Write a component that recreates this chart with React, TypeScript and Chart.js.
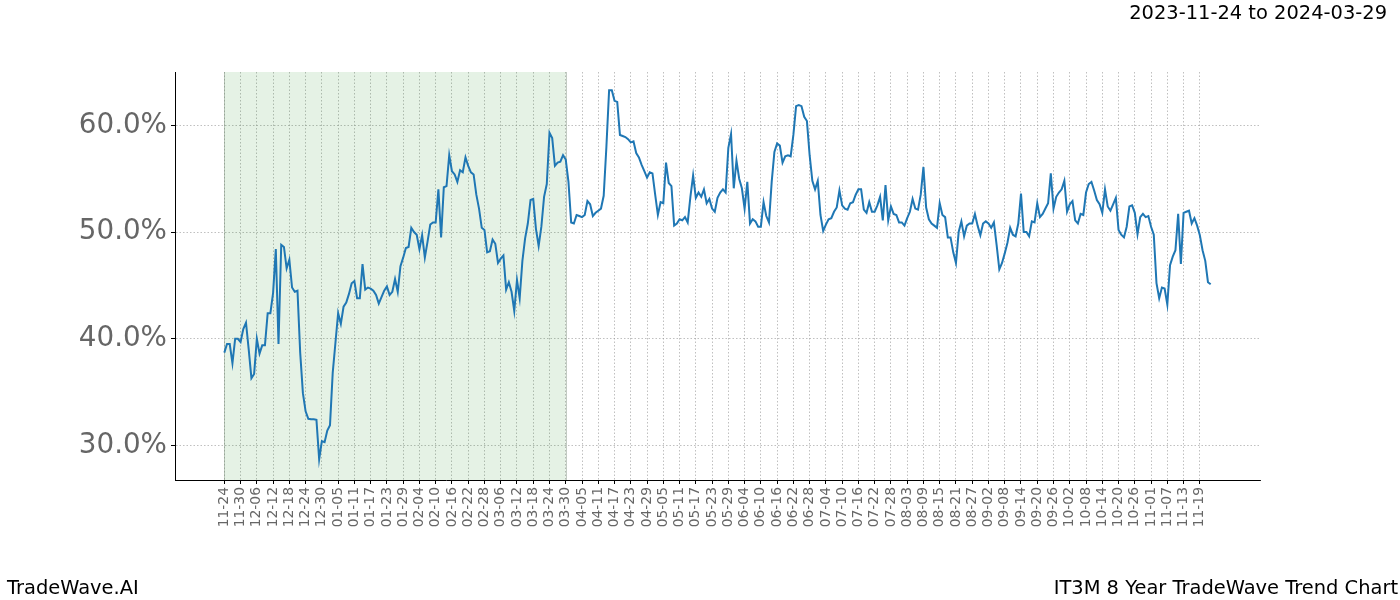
import React, { useEffect, useRef } from "react";
import { Chart, registerables } from "chart.js";

Chart.register(...registerables);

// Trend values (%), one per calendar day starting 2023-11-24
const trendValues: number[] = [
  38.7, 39.5, 39.5, 37.7, 40.0, 40.0, 39.7, 40.9, 41.5, 39.0,
  36.3, 36.7, 40.0, 38.6, 39.4, 39.4, 42.4, 42.4, 44.3, 48.4,
  39.5, 48.8, 48.6, 46.6, 47.4, 44.8, 44.4, 44.5, 38.7, 34.9,
  33.2, 32.5, 32.45, 32.45, 32.4, 28.7, 30.4, 30.3, 31.4, 31.9,
  36.8, 39.6, 42.4, 41.4, 43.0, 43.4, 44.2, 45.2, 45.4, 43.8,
  43.8, 47.0, 44.6, 44.8, 44.7, 44.5, 44.1, 43.3, 43.9, 44.5,
  44.9, 44.1, 44.4, 45.6, 44.4, 46.8, 47.6, 48.5, 48.6, 50.4,
  50.0, 49.75, 48.4, 49.7, 47.6, 49.1, 50.7, 50.9, 50.9, 54.0,
  49.5, 54.2, 54.3, 57.2, 55.7, 55.4, 54.7, 55.8, 55.6, 57.0,
  56.2, 55.6, 55.4, 53.5, 52.2, 50.4, 50.2, 48.1, 48.2, 49.3,
  48.9, 47.1, 47.5, 47.8, 44.6, 45.3, 44.4, 42.6, 45.5, 43.8,
  47.3, 49.4, 50.8, 53.0, 53.1, 50.3, 48.7, 50.5, 53.3, 54.5,
  59.3, 58.8, 56.2, 56.5, 56.6, 57.2, 56.8, 54.7, 50.9, 50.8,
  51.6, 51.5, 51.4, 51.6, 52.9, 52.6, 51.5, 51.8, 52.0, 52.2,
  53.4, 58.0, 63.3, 63.3, 62.3, 62.2, 59.1, 59.0, 58.9, 58.7,
  58.4, 58.5, 57.4, 57.0, 56.3, 55.7, 55.1, 55.6, 55.5, 53.5,
  51.6, 52.8, 52.7, 56.5, 54.6, 54.3, 50.6, 50.8, 51.2, 51.1,
  51.4, 50.9, 53.3, 55.3, 53.2, 53.7, 53.3, 54.0, 52.7, 53.1,
  52.2, 51.9, 53.2, 53.7, 54.0, 53.7, 57.9, 59.2, 54.1, 56.7,
  55.0, 54.1, 52.2, 54.7, 50.8, 51.2, 51.0, 50.5, 50.5, 52.8,
  51.5, 50.9, 54.7, 57.5, 58.3, 58.1, 56.5, 57.1, 57.2, 57.1,
  59.1, 61.8, 61.9, 61.8, 60.8, 60.4, 57.2, 54.8, 54.0, 54.8,
  51.6, 50.1, 50.7, 51.2, 51.3, 51.9, 52.3, 53.9, 52.5, 52.2,
  52.1, 52.7, 52.8, 53.5, 54.0, 54.0, 52.1, 51.8, 52.8, 51.9,
  51.9, 52.5, 53.3, 51.1, 54.4, 51.1, 52.4, 51.7, 51.6, 50.9,
  50.9, 50.6, 51.3, 51.9, 53.1, 52.2, 52.1, 53.5, 56.1, 52.3,
  51.2, 50.8, 50.6, 50.4, 52.7, 51.6, 51.4, 49.5, 49.5, 48.1,
  47.1, 50.0, 51.0, 49.6, 50.6, 50.8, 50.8, 51.7, 50.6, 49.7,
  50.8, 51.0, 50.8, 50.4, 50.9, 48.8, 46.5, 47.1, 48.0, 49.0,
  50.4, 49.75, 49.6, 50.8, 53.6, 50.0, 50.0, 49.6, 51.0, 50.9,
  52.7, 51.4, 51.7, 52.2, 52.7, 55.5, 52.2, 53.3, 53.7, 54.0,
  54.8, 51.9, 52.6, 52.9, 51.1, 50.8, 51.7, 51.6, 53.7, 54.5,
  54.7, 53.9, 53.0, 52.6, 51.8, 54.0, 52.4, 52.0, 52.6, 53.2,
  50.2, 49.75, 49.5, 50.5, 52.4, 52.5, 51.8, 49.8, 51.4, 51.7,
  51.4, 51.5, 50.5, 49.75, 45.2, 43.8, 44.8, 44.7, 43.2, 46.9,
  47.7, 48.3, 51.7, 47.0, 51.8, 51.9, 52.0, 50.8, 51.3, 50.6,
  49.7, 48.3, 47.3, 45.3, 45.1,
];

// Day offsets (x) for each value
const dayOffsets: number[] = trendValues.map((_, i) => i);

// X tick labels, one every 6 days
const xTickLabels: string[] = [
  "11-24", "11-30", "12-06", "12-12", "12-18", "12-24", "12-30", "01-05", "01-11", "01-17",
  "01-23", "01-29", "02-04", "02-10", "02-16", "02-22", "02-28", "03-06", "03-12", "03-18",
  "03-24", "03-30", "04-05", "04-11", "04-17", "04-23", "04-29", "05-05", "05-11", "05-17",
  "05-23", "05-29", "06-04", "06-10", "06-16", "06-22", "06-28", "07-04", "07-10", "07-16",
  "07-22", "07-28", "08-03", "08-09", "08-15", "08-21", "08-27", "09-02", "09-08", "09-14",
  "09-20", "09-26", "10-02", "10-08", "10-14", "10-20", "10-26", "11-01", "11-07", "11-13",
  "11-19",
];
const xTickStep = 6;

const yTickValues: number[] = [30, 40, 50, 60];

// Shaded window (day offsets): 2023-11-24 .. 2024-03-29
const shadeStartDay = 0;
const shadeEndDay = 126;

const titleText = "2023-11-24 to 2024-03-29";
const footerLeft = "TradeWave.AI";
const footerRight = "IT3M 8 Year TradeWave Trend Chart";

const FONT = "'DejaVu Sans', 'Liberation Sans', sans-serif";

export default function App() {
  const canvasRef = useRef<HTMLCanvasElement | null>(null);

  useEffect(() => {
    if (!canvasRef.current) return;

    const shadePlugin = {
      id: "shadeWindow",
      beforeDatasetsDraw(chart: any) {
        const { ctx, chartArea, scales } = chart;
        const x0 = scales.x.getPixelForValue(shadeStartDay);
        const x1 = scales.x.getPixelForValue(shadeEndDay);
        ctx.save();
        ctx.fillStyle = "rgba(0,128,0,0.1)";
        ctx.fillRect(x0, chartArea.top, x1 - x0, chartArea.bottom - chartArea.top);
        ctx.strokeStyle = "rgba(120,140,120,0.45)";
        ctx.lineWidth = 1;
        ctx.beginPath();
        ctx.moveTo(Math.round(x0) + 0.5, chartArea.top);
        ctx.lineTo(Math.round(x0) + 0.5, chartArea.bottom);
        ctx.moveTo(Math.round(x1) + 0.5, chartArea.top);
        ctx.lineTo(Math.round(x1) + 0.5, chartArea.bottom);
        ctx.stroke();
        ctx.restore();
      },
    };

    const textPlugin = {
      id: "pageTexts",
      afterDraw(chart: any) {
        const { ctx } = chart;
        ctx.save();
        ctx.fillStyle = "#000";
        ctx.font = `19.44px ${FONT}`;
        ctx.textBaseline = "alphabetic";
        ctx.textAlign = "right";
        ctx.fillText(titleText, 1387, 18.5);
        ctx.textAlign = "left";
        ctx.fillText(footerLeft, 7, 594);
        ctx.textAlign = "right";
        ctx.fillText(footerRight, 1398, 594);
        ctx.restore();
      },
    };

    const chart = new Chart(canvasRef.current, {
      type: "line",
      data: {
        datasets: [
          {
            data: dayOffsets.map((d, i) => ({ x: d, y: trendValues[i] })),
            borderColor: "#1f77b4",
            borderWidth: 2,
            pointRadius: 0,
            tension: 0,
            fill: false,
          },
        ],
      },
      options: {
        animation: false,
        responsive: false,
        maintainAspectRatio: false,
        layout: { padding: { left: 0, right: 140, top: 72, bottom: 0 } },
        plugins: {
          legend: { display: false },
          tooltip: { enabled: false },
          title: { display: false },
        },
        scales: {
          x: {
            type: "linear",
            min: -18.2,
            max: 382.2,
            afterBuildTicks: (scale: any) => {
              scale.ticks = xTickLabels.map((_, i) => ({ value: i * xTickStep }));
            },
            afterFit: (scale: any) => {
              scale.height = 120;
            },
            ticks: {
              autoSkip: false,
              minRotation: 90,
              maxRotation: 90,
              padding: 3,
              color: "#666666",
              font: { family: FONT, size: 13.9 },
              callback: (v: any) => xTickLabels[Math.round(Number(v) / xTickStep)] ?? "",
            },
            grid: {
              display: true,
              color: "rgba(150,150,150,0.75)",
              lineWidth: 0.8,
              drawTicks: true,
              tickLength: 4,
              tickColor: "#000",
              tickWidth: 1,
              tickBorderDash: [],
            },
            border: { display: true, color: "#000", width: 1, dash: [1.5, 2] },
          },
          y: {
            type: "linear",
            min: 26.76,
            max: 65.0,
            afterBuildTicks: (scale: any) => {
              scale.ticks = yTickValues.map((v) => ({ value: v }));
            },
            afterFit: (scale: any) => {
              scale.width = 175;
            },
            ticks: {
              padding: 4,
              color: "#666666",
              font: { family: FONT, size: 27.78 },
              callback: (v: any) => Number(v).toFixed(1) + "%",
            },
            grid: {
              display: true,
              color: "rgba(150,150,150,0.75)",
              lineWidth: 0.8,
              drawTicks: true,
              tickLength: 4,
              tickColor: "#000",
              tickWidth: 1,
              tickBorderDash: [],
            },
            border: { display: true, color: "#000", width: 1, dash: [1.5, 2] },
          },
        },
      },
      plugins: [shadePlugin, textPlugin],
    });

    return () => chart.destroy();
  }, []);

  return (
    <div style={{ position: "absolute", left: 0, top: 0, width: 1400, height: 600, background: "#fff" }}>
      <canvas ref={canvasRef} width={1400} height={600} style={{ width: 1400, height: 600, display: "block" }} />
    </div>
  );
}
